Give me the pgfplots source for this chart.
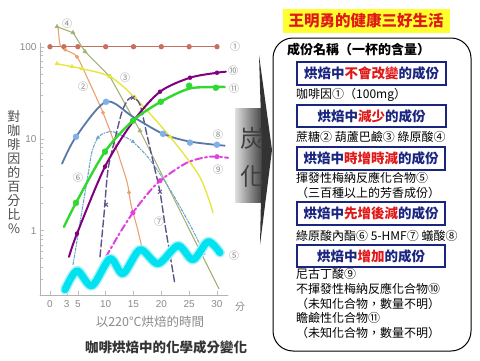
\documentclass[border=0pt]{standalone}
\usepackage{pgfplots}
\pgfplotsset{compat=1.18}
\usepackage{fontspec}
\setmainfont{Liberation Sans}
\newfontfamily\cjk{Noto Sans CJK TC}
\definecolor{cA}{HTML}{C87060}
\definecolor{cB}{HTML}{EBA070}
\definecolor{cC}{HTML}{E6E640}
\definecolor{cD}{HTML}{A3B376}
\definecolor{cE}{HTML}{00E2F0}
\definecolor{cEh}{HTML}{A8F2F8}
\definecolor{cF}{HTML}{6FA6C6}
\definecolor{cG}{HTML}{5E5488}
\definecolor{cH}{HTML}{5878A8}
\definecolor{cHm}{HTML}{80B0E8}
\definecolor{cI}{HTML}{E040E0}
\definecolor{cJ}{HTML}{800080}
\definecolor{cK}{HTML}{30D830}
\definecolor{navy}{HTML}{1A2580}
\definecolor{hired}{HTML}{E01818}
\definecolor{ybg}{HTML}{FFFF30}
\definecolor{lab}{HTML}{8A8A8A}
\begin{document}
\begin{tikzpicture}
\path[use as bounding box] (0,0) rectangle (480pt,360pt);
\begin{axis}[
  at={(40pt,65pt)}, anchor=south west,
  scale only axis, width=188.1pt, height=252.1pt,
  xmin=-1.8, xmax=32, ymode=log, ymin=0.2, ymax=110,
  axis lines=left, axis line style={-, draw=gray!60, line width=0.6pt},
  clip=false,
  xtick={0,3,5,10,15,20,25,30},
  ytick={1,10,100}, yticklabels={1,10,100},
  minor ytick={0.3,0.4,0.5,0.6,0.7,0.8,0.9,2,3,4,5,6,7,8,9,20,30,40,50,60,70,80,90},
  tick align=inside, major tick length=4pt, minor tick length=3pt,
  tick style={gray!50, line width=0.4pt},
  tick label style={text=lab, font=\fontsize{10}{10}\selectfont},
  xticklabel style={yshift=-2pt},
  /pgf/number format/assume math mode=true,
  line join=round, line cap=round,
]
% 1 caffeine
\addplot[cA, line width=1.3pt, mark=*, mark size=2pt] coordinates {(0,100) (2.5,100) (5,100) (10,100) (15,100) (20,100) (25,100) (30,100)};
% 2 sucrose
\addplot[cB, line width=1.1pt, smooth, tension=0.4] coordinates {(1.44,165) (1.8,105) (2.7,92.8) (4.85,77.8) (7.19,39.6) (9.52,19.2) (11.68,8.61) (13.83,3.41) (14.55,1.92) (15.63,1.10) (16.71,0.591)};
\addplot[cB, only marks, mark=*, mark size=1.8pt] coordinates {(2.7,92.8) (4.85,77.8) (9.52,19.2) (14.2,2.6)};
% 4 chlorogenic acid
\addplot[cD, line width=1.1pt] coordinates {(1.26,165) (4.13,142) (6.29,88.3) (10.78,47.2) (16.17,12.2) (30.36,0.234)};
\addplot[cD, only marks, mark=triangle*, mark size=2.5pt] coordinates {(1.26,165) (4.13,142) (6.29,88.3) (10.78,47.2) (16.17,12.2)};
% 3 trigonelline
\addplot[cC, line width=1.4pt, smooth] coordinates {(1.26,65.3) (3.95,60.6) (5.75,57.6) (10.78,47.2) (15.27,27.9) (21.56,10.5) (26.9,3.86) (29.3,1.57)};
\addplot[cC, only marks, mark=triangle*, mark size=2.5pt] coordinates {(1.26,65.3) (3.95,60.6) (5.75,57.6) (10.78,47.2) (15.27,27.9) (21.56,10.5)};
% 6 lactones
\addplot[cF, line width=1.1pt, smooth, dash pattern=on 3pt off 1.5pt on 1pt off 1.5pt] coordinates {(4.13,0.427) (5.03,0.906) (5.93,1.92) (6.83,4.06) (7.54,7.23) (8.62,10.3) (9.88,11.6) (11.32,11.9) (12.93,10.8) (14.9,9.27) (17.96,5.9) (21.56,2.8) (25.15,1.16) (27.84,0.55)};
\addplot[cF, only marks, mark=triangle*, mark size=2pt] coordinates {(8.62,10.3) (14.9,9.27)};
% 7 HMF
\addplot[cG, line width=1.4pt, smooth, dash pattern=on 7pt off 3pt] coordinates {(8.98,0.52) (9.7,1.49) (10.42,4.6) (11.68,10) (12.93,19.6) (14.0,26.5) (14.9,27.9) (16.17,23.4) (17.42,11.0) (18.86,4.6) (19.76,2.65) (20.66,1.16) (21.56,0.55) (22.45,0.26)};
\addplot[cG, only marks, mark=x, mark size=2.5pt, line width=1pt] coordinates {(10.06,1.92) (14.9,27.9) (19.76,2.65)};
% 9 nicotinic acid
\addplot[cI, line width=2pt, smooth, dash pattern=on 7pt off 3pt on 2pt off 3pt] coordinates {(10.06,0.52) (12.57,0.95) (14.9,1.57) (17.4,2.46) (19.76,3.49) (24.6,5.48) (28.7,6.37) (32,6.2)};
\addplot[cI, only marks, mark=*, mark size=2.3pt] coordinates {(14.9,1.57) (19.76,3.49) (30,6.37)};
% 8 formic acid
\addplot[cH, line width=1.8pt, smooth] coordinates {(2.16,5.35) (4.67,10.5) (10.06,25.2) (14.9,17.3) (20.3,11.3) (25.15,9.3) (31.4,8.4)};
\addplot[cHm, only marks, mark=*, mark size=3pt] coordinates {(4.67,10.5) (10.06,25.2) (20.3,11.3) (25.15,9.06) (30,8.6)};
% 10
\addplot[cJ, line width=2pt, smooth] coordinates {(3.41,0.52) (4.85,0.93) (9.88,4.97) (14.9,15.3) (19.76,32.4) (25.15,46) (30,52.1) (31.6,53.5)};
\addplot[cJ, only marks, mark=*, mark size=2pt] coordinates {(4.85,0.93) (9.88,4.97) (19.76,32.4) (25.15,46) (30,52.1)};
% 11
\addplot[cK, line width=2.4pt, smooth] coordinates {(2.51,1.10) (4.67,2.01) (9.88,7.23) (14.9,15.7) (19.9,25.2) (25,35) (29.8,36.5) (31.4,36.5)};
\addplot[cK, only marks, mark=*, mark size=3pt] coordinates {(4.67,2.01) (9.88,7.23) (14.9,15.7) (19.9,25.2) (25,37.7) (29.8,35.8)};
% 5 volatile Maillard
\addplot[cEh, line width=10pt, smooth] coordinates {(2.69,0.2285) (4.85,0.367) (7.54,0.252) (10.78,0.496) (13.11,0.341) (16.17,0.621) (19.4,0.438) (22.99,0.687) (25.69,0.484) (28.38,0.759) (30.54,0.577)};
\addplot[cE, line width=7pt, smooth] coordinates {(2.69,0.2285) (4.85,0.367) (7.54,0.252) (10.78,0.496) (13.11,0.341) (16.17,0.621) (19.4,0.438) (22.99,0.687) (25.69,0.484) (28.38,0.759) (30.54,0.577)};
\end{axis}
\begin{scope}[x=1pt,y=-1pt,yshift=360pt]
% series labels
\begin{scope}[every node/.style={text=lab, font=\cjk\fontsize{10}{10}\selectfont, inner sep=0pt}]
\node at (235,47) {①};
\node at (233,71) {⑩};
\node at (234,89) {⑪};
\node at (218,135) {⑧};
\node at (218,170) {⑨};
\node at (234,256) {⑤};
\node at (159,222) {⑦};
\node at (78,178) {⑥};
\node at (83,87) {②};
\node at (125,78) {③};
\node at (67,24) {④};
\node at (240,307) {分};
\end{scope}
% y label
\node[align=center, text=black!70, font=\cjk\fontsize{13}{14}\selectfont, inner sep=0pt] at (14,172) {對\\咖\\啡\\因\\的\\百\\分\\比\\\%};
% x label and caption
\node[text=lab, font=\cjk\fontsize{12.5}{13}\selectfont, inner sep=0pt] at (150,322) {以220°C烘焙的時間};
\node[text=black!80, font=\cjk\bfseries\fontsize{13.5}{14}\selectfont, inner sep=0pt] at (166,347) {咖啡烘焙中的化學成分變化};
% grey arrow panel
\shade[left color=gray!25, right color=black!75] (235,108) rectangle (263,202);
\fill[black!80] (259,55) -- (272,150) -- (260,245) -- (262,150) -- cycle;
\node[text=black!75, font=\cjk\fontsize{24}{24}\selectfont, inner sep=0pt] at (252,138) {炭};
\node[text=black!75, font=\cjk\fontsize{24}{24}\selectfont, inner sep=0pt] at (252,176) {化};
% title
\fill[ybg] (283,9) rectangle (450,33);
\node[text=hired, font=\cjk\bfseries\fontsize{15.5}{16}\selectfont, inner sep=0pt] at (366,21) {王明勇的健康三好生活};
% rounded box
\draw[line width=1pt, rounded corners=20pt] (273,38) rectangle (471,351);
\node[anchor=west, font=\cjk\bfseries\fontsize{13}{13}\selectfont, inner sep=0pt] at (287,50) {成份名稱（一杯的含量）};
\begin{scope}[every node/.style={font=\cjk\bfseries\fontsize{13.5}{14}\selectfont, inner sep=0pt}]
\draw[navy, line width=1.2pt] (297,62) rectangle (446,85);
\node at (371.5,73.5) {\textcolor{navy}{烘焙中}\textcolor{hired}{不會改變}\textcolor{navy}{的成份}};
\draw[navy, line width=1.2pt] (297,105) rectangle (446,127);
\node at (371.5,116) {\textcolor{navy}{烘焙中}\textcolor{hired}{減少}\textcolor{navy}{的成份}};
\draw[navy, line width=1.2pt] (297,147) rectangle (445,170);
\node at (371,158.5) {\textcolor{navy}{烘焙中}\textcolor{hired}{時增時減}\textcolor{navy}{的成份}};
\draw[navy, line width=1.2pt] (297,202) rectangle (445,225);
\node at (371,213.5) {\textcolor{navy}{烘焙中}\textcolor{hired}{先增後減}\textcolor{navy}{的成份}};
\draw[navy, line width=1.2pt] (297,245) rectangle (445,267);
\node at (371,256) {\textcolor{navy}{烘焙中}\textcolor{hired}{增加}\textcolor{navy}{的成份}};
\end{scope}
\begin{scope}[every node/.style={anchor=west, font=\cjk\fontsize{12}{12}\selectfont, inner sep=0pt}]
\node at (296,95) {咖啡因①（100mg）};
\node at (296,137) {蔗糖② 葫蘆巴鹼③ 綠原酸④};
\node at (296,178) {揮發性梅納反應化合物⑤};
\node at (296,193) {（三百種以上的芳香成份）};
\node at (296,236) {綠原酸內酯⑥ 5-HMF⑦ 蟻酸⑧};
\node at (296,274) {尼古丁酸⑨};
\node at (296,289) {不揮發性梅納反應化合物⑩};
\node at (296,304) {（未知化合物，數量不明）};
\node at (296,318) {瞻鹼性化合物⑪};
\node at (296,333) {（未知化合物，數量不明）};
\end{scope}
\end{scope}
\end{tikzpicture}
\end{document}
